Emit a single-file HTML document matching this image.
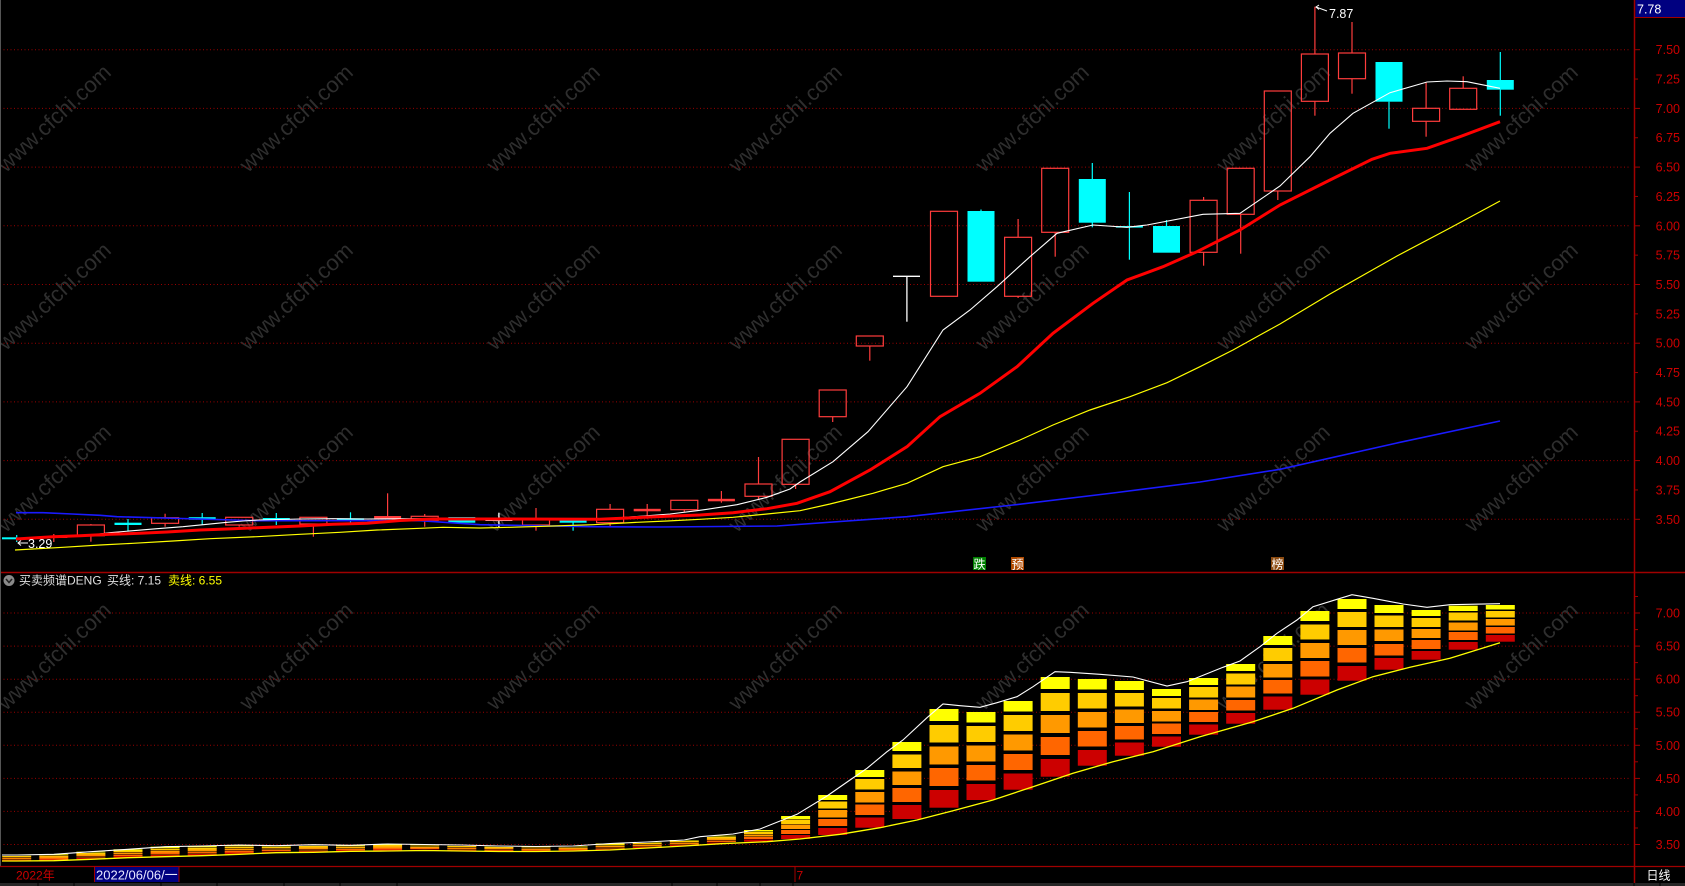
<!DOCTYPE html>
<html><head><meta charset="utf-8"><style>
html,body{margin:0;padding:0;background:#000;}
svg{display:block;}
text{font-family:"Liberation Sans","Noto Sans CJK SC",sans-serif;}
</style></head><body>
<svg width="1685" height="886" viewBox="0 0 1685 886" xmlns="http://www.w3.org/2000/svg">
<defs>
<linearGradient id="bg" x1="0" y1="0" x2="0" y2="1">
<stop offset="0" stop-color="#ffff00"/><stop offset="0.12" stop-color="#ffff00"/>
<stop offset="0.12" stop-color="#000"/><stop offset="0.16" stop-color="#000"/>
<stop offset="0.16" stop-color="#ffcc00"/><stop offset="0.34" stop-color="#ffcc00"/>
<stop offset="0.34" stop-color="#000"/><stop offset="0.38" stop-color="#000"/>
<stop offset="0.38" stop-color="#ff9900"/><stop offset="0.56" stop-color="#ff9900"/>
<stop offset="0.56" stop-color="#000"/><stop offset="0.60" stop-color="#000"/>
<stop offset="0.60" stop-color="#ff6600"/><stop offset="0.78" stop-color="#ff6600"/>
<stop offset="0.78" stop-color="#000"/><stop offset="0.82" stop-color="#000"/>
<stop offset="0.82" stop-color="#cc0000"/><stop offset="1" stop-color="#cc0000"/>
</linearGradient>
</defs>
<rect x="0" y="0" width="1685" height="886" fill="#000"/>

<!-- watermarks -->
<g fill="#2e2e2e" font-size="22" text-anchor="middle">
<text transform="translate(54,118) rotate(-43)" dy="0.35em">www.cfchi.com</text>
<text transform="translate(296,118) rotate(-43)" dy="0.35em">www.cfchi.com</text>
<text transform="translate(543,118) rotate(-43)" dy="0.35em">www.cfchi.com</text>
<text transform="translate(785,118) rotate(-43)" dy="0.35em">www.cfchi.com</text>
<text transform="translate(1032,118) rotate(-43)" dy="0.35em">www.cfchi.com</text>
<text transform="translate(1273,118) rotate(-43)" dy="0.35em">www.cfchi.com</text>
<text transform="translate(1521,118) rotate(-43)" dy="0.35em">www.cfchi.com</text>
<text transform="translate(54,296) rotate(-43)" dy="0.35em">www.cfchi.com</text>
<text transform="translate(296,296) rotate(-43)" dy="0.35em">www.cfchi.com</text>
<text transform="translate(543,296) rotate(-43)" dy="0.35em">www.cfchi.com</text>
<text transform="translate(785,296) rotate(-43)" dy="0.35em">www.cfchi.com</text>
<text transform="translate(1032,296) rotate(-43)" dy="0.35em">www.cfchi.com</text>
<text transform="translate(1273,296) rotate(-43)" dy="0.35em">www.cfchi.com</text>
<text transform="translate(1521,296) rotate(-43)" dy="0.35em">www.cfchi.com</text>
<text transform="translate(54,478) rotate(-43)" dy="0.35em">www.cfchi.com</text>
<text transform="translate(296,478) rotate(-43)" dy="0.35em">www.cfchi.com</text>
<text transform="translate(543,478) rotate(-43)" dy="0.35em">www.cfchi.com</text>
<text transform="translate(785,478) rotate(-43)" dy="0.35em">www.cfchi.com</text>
<text transform="translate(1032,478) rotate(-43)" dy="0.35em">www.cfchi.com</text>
<text transform="translate(1273,478) rotate(-43)" dy="0.35em">www.cfchi.com</text>
<text transform="translate(1521,478) rotate(-43)" dy="0.35em">www.cfchi.com</text>
<text transform="translate(54,656) rotate(-43)" dy="0.35em">www.cfchi.com</text>
<text transform="translate(296,656) rotate(-43)" dy="0.35em">www.cfchi.com</text>
<text transform="translate(543,656) rotate(-43)" dy="0.35em">www.cfchi.com</text>
<text transform="translate(785,656) rotate(-43)" dy="0.35em">www.cfchi.com</text>
<text transform="translate(1032,656) rotate(-43)" dy="0.35em">www.cfchi.com</text>
<text transform="translate(1273,656) rotate(-43)" dy="0.35em">www.cfchi.com</text>
<text transform="translate(1521,656) rotate(-43)" dy="0.35em">www.cfchi.com</text>
</g>

<!-- grid lines -->
<g stroke="#9a0000" stroke-width="1" stroke-dasharray="1 2.5">
<line x1="0" y1="49.7" x2="1631" y2="49.7"/>
<line x1="0" y1="108.4" x2="1631" y2="108.4"/>
<line x1="0" y1="167.1" x2="1631" y2="167.1"/>
<line x1="0" y1="225.8" x2="1631" y2="225.8"/>
<line x1="0" y1="284.5" x2="1631" y2="284.5"/>
<line x1="0" y1="343.2" x2="1631" y2="343.2"/>
<line x1="0" y1="401.9" x2="1631" y2="401.9"/>
<line x1="0" y1="460.6" x2="1631" y2="460.6"/>
<line x1="0" y1="519.3" x2="1631" y2="519.3"/>
<line x1="0" y1="613" x2="1631" y2="613"/>
<line x1="0" y1="646.1" x2="1631" y2="646.1"/>
<line x1="0" y1="679.2" x2="1631" y2="679.2"/>
<line x1="0" y1="712.2" x2="1631" y2="712.2"/>
<line x1="0" y1="745.3" x2="1631" y2="745.3"/>
<line x1="0" y1="778.4" x2="1631" y2="778.4"/>
<line x1="0" y1="811.4" x2="1631" y2="811.4"/>
<line x1="0" y1="844.5" x2="1631" y2="844.5"/>
</g>

<!-- candles: red hollow -->
<g fill="none" stroke="#ff3c3c" stroke-width="1.2">
<rect x="77.4" y="525" width="27" height="10.7"/>
<rect x="151.6" y="517.7" width="27" height="5.6"/>
<rect x="225.7" y="517.3" width="27" height="7.7"/>
<rect x="299.9" y="517.3" width="27" height="6.7"/>
<rect x="411.2" y="516.3" width="27" height="4"/>
<rect x="522.5" y="519" width="27" height="6"/>
<rect x="596.6" y="509.3" width="27" height="13.4"/>
<rect x="670.8" y="500.3" width="27" height="9.4"/>
<rect x="745" y="484" width="27" height="12.3"/>
<rect x="782.1" y="439.3" width="27" height="45"/>
<rect x="819.2" y="390" width="27" height="26.7"/>
<rect x="856.3" y="336" width="27" height="10"/>
<rect x="930.5" y="211.3" width="27" height="85"/>
<rect x="1004.6" y="237.3" width="27" height="59"/>
<rect x="1041.7" y="168.3" width="27" height="64"/>
<rect x="1190.1" y="200.3" width="27" height="52"/>
<rect x="1227.2" y="168.3" width="27" height="46"/>
<rect x="1264.3" y="91" width="27" height="100"/>
<rect x="1301.4" y="54" width="27" height="47.3"/>
<rect x="1338.5" y="53" width="27" height="25.7"/>
<rect x="1412.6" y="108.3" width="27" height="13"/>
<rect x="1449.7" y="88.3" width="27" height="21"/>
<!-- wicks -->
<line x1="53.8" y1="534" x2="53.8" y2="542"/>
<line x1="90.9" y1="524" x2="90.9" y2="525"/><line x1="90.9" y1="535.7" x2="90.9" y2="541.7"/>
<line x1="165.1" y1="513.7" x2="165.1" y2="517.7"/><line x1="165.1" y1="523.3" x2="165.1" y2="526.7"/>
<line x1="239.2" y1="525" x2="239.2" y2="526.7"/>
<line x1="313.4" y1="524" x2="313.4" y2="536.7"/>
<line x1="387.6" y1="493.3" x2="387.6" y2="518"/>
<line x1="424.7" y1="514" x2="424.7" y2="516.3"/><line x1="424.7" y1="520.3" x2="424.7" y2="526.7"/>
<line x1="536" y1="508" x2="536" y2="519"/><line x1="536" y1="525" x2="536" y2="530.7"/>
<line x1="610.1" y1="504" x2="610.1" y2="509.3"/><line x1="610.1" y1="522.7" x2="610.1" y2="526"/>
<line x1="647.2" y1="504" x2="647.2" y2="518.7"/>
<line x1="684.3" y1="509.7" x2="684.3" y2="512"/>
<line x1="721.4" y1="491" x2="721.4" y2="502.7"/>
<line x1="758.5" y1="457" x2="758.5" y2="484"/><line x1="758.5" y1="496.3" x2="758.5" y2="499.3"/>
<line x1="795.6" y1="484.3" x2="795.6" y2="489"/>
<line x1="832.7" y1="416.7" x2="832.7" y2="422"/>
<line x1="869.8" y1="346" x2="869.8" y2="360.7"/>
<line x1="1018.1" y1="219" x2="1018.1" y2="237.3"/><line x1="1018.1" y1="296.3" x2="1018.1" y2="298"/>
<line x1="1055.2" y1="232.3" x2="1055.2" y2="256.7"/>
<line x1="1203.6" y1="197" x2="1203.6" y2="200.3"/><line x1="1203.6" y1="252.3" x2="1203.6" y2="265.7"/>
<line x1="1240.7" y1="214.3" x2="1240.7" y2="253.7"/>
<line x1="1277.8" y1="191" x2="1277.8" y2="200"/>
<line x1="1314.9" y1="6.7" x2="1314.9" y2="54"/><line x1="1314.9" y1="101.3" x2="1314.9" y2="115.7"/>
<line x1="1352" y1="22" x2="1352" y2="53"/><line x1="1352" y1="78.7" x2="1352" y2="93.7"/>
<line x1="1426.1" y1="82.7" x2="1426.1" y2="108.3"/><line x1="1426.1" y1="121.3" x2="1426.1" y2="136.7"/>
<line x1="1463.2" y1="76.3" x2="1463.2" y2="88.3"/>
</g>
<g fill="#ff3c3c">
<rect x="40.3" y="536" width="27" height="2"/>
<rect x="374.1" y="516" width="27" height="2.5"/>
<rect x="633.7" y="508.8" width="27" height="2.5"/>
<rect x="707.9" y="498.8" width="27" height="2.5"/>
</g>
<!-- cyan candles -->
<g fill="#00ffff">
<rect x="2" y="537.3" width="14" height="2"/>
<rect x="114.5" y="522.7" width="27" height="2.3"/>
<rect x="188.7" y="517.2" width="27" height="2.5"/>
<rect x="262.8" y="518" width="27" height="2.5"/>
<rect x="337" y="518.3" width="27" height="2.3"/>
<rect x="448.3" y="517" width="27" height="5.7"/>
<rect x="559.6" y="520.3" width="27" height="2.4"/>
<rect x="967.5" y="211" width="27" height="70.7"/>
<rect x="1078.8" y="179" width="27" height="43.7"/>
<rect x="1115.9" y="226" width="27" height="1.6"/>
<rect x="1153" y="226" width="27" height="26.7"/>
<rect x="1375.5" y="62" width="27" height="39.7"/>
<rect x="1486.8" y="80" width="27" height="9.7"/>
</g>
<g stroke="#00ffff" stroke-width="1.2">
<line x1="16.7" y1="535" x2="16.7" y2="542"/>
<line x1="128" y1="519" x2="128" y2="531"/>
<line x1="202.2" y1="513" x2="202.2" y2="525"/>
<line x1="276.3" y1="513" x2="276.3" y2="525"/>
<line x1="350.5" y1="512.3" x2="350.5" y2="522.7"/>
<line x1="573.1" y1="518" x2="573.1" y2="530.7"/>
<line x1="981" y1="209.5" x2="981" y2="211"/>
<line x1="1092.3" y1="163" x2="1092.3" y2="227.3"/>
<line x1="1129.4" y1="192" x2="1129.4" y2="259.7"/>
<line x1="1166.5" y1="220" x2="1166.5" y2="226"/>
<line x1="1389" y1="101.7" x2="1389" y2="128.7"/>
<line x1="1500.3" y1="52" x2="1500.3" y2="115.7"/>
</g>
<!-- white dojis -->
<g stroke="#ffffff" stroke-width="1.3">
<line x1="485.4" y1="520.3" x2="512.4" y2="520.3"/>
<line x1="498.9" y1="512.7" x2="498.9" y2="527.3"/>
<line x1="893" y1="276.3" x2="920" y2="276.3"/>
<line x1="906.9" y1="276.3" x2="906.9" y2="321.7"/>
</g>

<!-- moving averages -->
<polyline fill="none" stroke="#1a1aff" stroke-width="1.6" points="16,512.7 43,512.7 72,514 100,515.3 117,516.7 258,520.7 420,520.7 480,524.7 590,526.7 660,527 777,526 907,516.7 1013,505 1113,493 1200,482 1280,469.3 1397,443 1500,421"/>
<polyline fill="none" stroke="#ffff00" stroke-width="1.2" points="15,550 63,547.3 100,545 133,543.3 173,541 210,538.7 257,536.7 300,534.3 340,532.3 377,530 420,528.3 443,527.3 480,528 510,527.3 553,526 593,524.7 637,522.3 667,521 700,519.3 733,517.3 767,514 800,510.7 830,504 873,493.3 907,483.3 943,466.7 980,456.7 1020,440 1053,425 1090,410 1130,396.7 1167,382.7 1200,366.7 1233,350 1260,335 1280,324 1330,294 1397,256 1450,228 1500,201"/>
<polyline fill="none" stroke="#ffffff" stroke-width="1.1" points="84,536 110,532.7 133,530.7 157,528.7 183,526.7 207,524.3 227,522.3 243,521 258,520 300,519 333,518.7 367,519 420,518.7 500,519 600,519 640,516.3 670,514 697,510.7 707,509.3 737,504.7 767,497.3 790,489 800,482 833,461.7 868,431.7 907,386.7 943,330 970,310 997,286.7 1030,256.7 1057,233.3 1093,225 1127,227.3 1147,225 1203,214.3 1240,213.3 1280,186 1310,156.7 1330,133.3 1353,113.3 1390,92.7 1427,82 1447,81 1467,81.7 1500,88.3"/>
<polyline fill="none" stroke="#ff0000" stroke-width="3" points="16,539 53,536.7 80,535.7 110,534.3 140,533.3 167,532 200,530 233,528.7 257,527.7 300,526 333,524.3 367,523.3 400,520.5 433,519 500,519 600,519.3 633,517.7 667,516.3 700,515 733,512.7 767,508.7 797,503.3 830,491.7 870,470 907,446.7 940,416.7 980,393.3 1017,366.7 1053,333.3 1093,303.3 1127,280 1163,266.7 1197,251.7 1240,230 1280,205 1330,180 1372,159.3 1390,153.3 1427,148.3 1460,136.7 1500,121.7"/>

<!-- high/low markers -->
<g stroke="#ffffff" stroke-width="1" fill="none">
<line x1="1316" y1="7" x2="1327" y2="11"/>
<polyline points="1319,5 1316,7 1319,9.5"/>
<line x1="18" y1="543" x2="28" y2="543"/>
<polyline points="21,540.5 18,543 21,545.5"/>
</g>
<text x="1329" y="18" font-size="12.5" fill="#ffffff">7.87</text>
<text x="28" y="548" font-size="12.5" fill="#ffffff">3.29</text>

<!-- signal labels -->
<rect x="973" y="557" width="13" height="13" fill="#008000"/>
<text x="979.5" y="568.5" font-size="12" fill="#ffffff" text-anchor="middle">跌</text>
<rect x="1011" y="557" width="13" height="13" fill="#b04a00"/>
<text x="1017.5" y="568.5" font-size="12" fill="#ffffff" text-anchor="middle">预</text>
<rect x="1271" y="557" width="13" height="13" fill="#8b4a10"/>
<text x="1277.5" y="568.5" font-size="12" fill="#ffffff" text-anchor="middle">榜</text>

<!-- panel divider -->
<line x1="0" y1="572.5" x2="1685" y2="572.5" stroke="#a00000" stroke-width="1.5"/>

<!-- legend -->
<circle cx="9" cy="580.5" r="5.5" fill="#8a8a8a"/>
<polyline points="6,579 9,582.5 12,579" fill="none" stroke="#222" stroke-width="1.5"/>
<text x="19" y="584.5" font-size="12" fill="#e0e0e0">买卖频谱DENG</text>
<text x="107" y="584.5" font-size="12" fill="#e0e0e0">买线: 7.15</text>
<text x="168" y="584.5" font-size="12" fill="#ffff00">卖线: 6.55</text>

<!-- spectrum bars -->
<g fill="url(#bg)">
<rect x="2.2" y="855" width="29" height="6"/>
<rect x="39.3" y="854.3" width="29" height="6.4"/>
<rect x="76.4" y="851.7" width="29" height="7.6"/>
<rect x="113.5" y="849.3" width="29" height="8.4"/>
<rect x="150.6" y="846.7" width="29" height="10"/>
<rect x="187.7" y="846" width="29" height="9.7"/>
<rect x="224.7" y="845" width="29" height="9.3"/>
<rect x="261.8" y="845.7" width="29" height="7"/>
<rect x="298.9" y="844.7" width="29" height="7.6"/>
<rect x="336" y="845.3" width="29" height="6"/>
<rect x="373.1" y="844" width="29" height="7"/>
<rect x="410.2" y="844.5" width="29" height="6"/>
<rect x="447.3" y="845" width="29" height="6"/>
<rect x="484.4" y="846" width="29" height="5.5"/>
<rect x="521.5" y="846.5" width="29" height="5"/>
<rect x="558.6" y="846" width="29" height="5"/>
<rect x="595.6" y="843.5" width="29" height="6.5"/>
<rect x="632.7" y="842" width="29" height="6"/>
<rect x="669.8" y="840" width="29" height="6"/>
<rect x="706.9" y="835.7" width="29" height="8"/>
<rect x="744" y="830" width="29" height="11.7"/>
<rect x="781.1" y="816" width="29" height="23"/>
<rect x="818.2" y="795" width="29" height="40"/>
<rect x="855.3" y="770" width="29" height="57.7"/>
<rect x="892.4" y="742" width="29" height="77"/>
<rect x="929.5" y="709" width="29" height="98.7"/>
<rect x="966.5" y="712" width="29" height="88"/>
<rect x="1003.6" y="701" width="29" height="88.7"/>
<rect x="1040.7" y="677" width="29" height="99.7"/>
<rect x="1077.8" y="679" width="29" height="86.7"/>
<rect x="1114.9" y="681" width="29" height="74.7"/>
<rect x="1152" y="689" width="29" height="57.7"/>
<rect x="1189.1" y="678" width="29" height="56.7"/>
<rect x="1226.2" y="664" width="29" height="59.7"/>
<rect x="1263.3" y="636" width="29" height="73.7"/>
<rect x="1300.4" y="611" width="29" height="83.7"/>
<rect x="1337.5" y="599" width="29" height="81.7"/>
<rect x="1374.5" y="605" width="29" height="64.7"/>
<rect x="1411.6" y="610" width="29" height="49.7"/>
<rect x="1448.7" y="605.7" width="29" height="44"/>
<rect x="1485.8" y="605" width="29" height="36.7"/>
</g>
<polyline fill="none" stroke="#ffffff" stroke-width="1.1" points="2,855 16.7,855 53.8,854.3 90.9,851.7 128,849.3 165.1,846.7 202.2,846 239.2,845 276.3,845.7 313.4,844.7 350.5,845.3 387.6,844 424.7,844.5 461.8,845 498.9,846 536,846.5 573.1,846 610.1,843.5 647.2,842 684.3,840 700,836.7 733,834 760,829 797,814.3 827,796 850,780 867,768.3 887,751.7 903,740 927,717.7 943,704 960,705.7 980,707.3 997,702.7 1017,696.7 1033,686.7 1055,671.7 1070,672.3 1100,674.3 1133,677 1167,686 1187,681.7 1223,667.3 1240,661 1260,646.7 1277,633.3 1297,620 1313,606.7 1337,599.3 1352,594.7 1373,598.3 1403,604 1427,607.3 1450,604.7 1500,603.7"/>
<polyline fill="none" stroke="#ffff00" stroke-width="1.3" points="2,861 16.7,861 53.8,860.7 90.9,859.3 128,857.7 165.1,856.7 202.2,855.7 239.2,854.3 276.3,852.7 313.4,852.3 350.5,851.3 387.6,851 424.7,850.5 461.8,851 498.9,851.5 536,851.5 573.1,851 610.1,850 647.2,848 684.3,846 721.4,843.7 767,841.7 800,839 840,834.3 880,827.7 917,820 953,810.7 993,800 1033,786.7 1073,773.3 1113,761.7 1153,751.7 1200,736.7 1253,721.7 1293,708.3 1337,690 1373,676.7 1410,667.3 1450,658.3 1500,642.7"/>

<!-- left border -->
<line x1="0.5" y1="0" x2="0.5" y2="866" stroke="#555" stroke-width="1"/>

<!-- right axis -->
<line x1="1634.5" y1="0" x2="1634.5" y2="886" stroke="#a00000" stroke-width="1.5"/>
<g stroke="#a00000" stroke-width="1">
<line x1="1635" y1="49.7" x2="1640" y2="49.7"/><line x1="1635" y1="79.05" x2="1638" y2="79.05"/>
<line x1="1635" y1="108.4" x2="1640" y2="108.4"/><line x1="1635" y1="137.75" x2="1638" y2="137.75"/>
<line x1="1635" y1="167.1" x2="1640" y2="167.1"/><line x1="1635" y1="196.45" x2="1638" y2="196.45"/>
<line x1="1635" y1="225.8" x2="1640" y2="225.8"/><line x1="1635" y1="255.15" x2="1638" y2="255.15"/>
<line x1="1635" y1="284.5" x2="1640" y2="284.5"/><line x1="1635" y1="313.85" x2="1638" y2="313.85"/>
<line x1="1635" y1="343.2" x2="1640" y2="343.2"/><line x1="1635" y1="372.55" x2="1638" y2="372.55"/>
<line x1="1635" y1="401.9" x2="1640" y2="401.9"/><line x1="1635" y1="431.25" x2="1638" y2="431.25"/>
<line x1="1635" y1="460.6" x2="1640" y2="460.6"/><line x1="1635" y1="489.95" x2="1638" y2="489.95"/>
<line x1="1635" y1="519.3" x2="1640" y2="519.3"/>
<line x1="1635" y1="596.5" x2="1638" y2="596.5"/>
<line x1="1635" y1="613" x2="1640" y2="613"/><line x1="1635" y1="629.6" x2="1638" y2="629.6"/>
<line x1="1635" y1="646.1" x2="1640" y2="646.1"/><line x1="1635" y1="662.6" x2="1638" y2="662.6"/>
<line x1="1635" y1="679.2" x2="1640" y2="679.2"/><line x1="1635" y1="695.7" x2="1638" y2="695.7"/>
<line x1="1635" y1="712.2" x2="1640" y2="712.2"/><line x1="1635" y1="728.8" x2="1638" y2="728.8"/>
<line x1="1635" y1="745.3" x2="1640" y2="745.3"/><line x1="1635" y1="761.8" x2="1638" y2="761.8"/>
<line x1="1635" y1="778.4" x2="1640" y2="778.4"/><line x1="1635" y1="794.9" x2="1638" y2="794.9"/>
<line x1="1635" y1="811.4" x2="1640" y2="811.4"/><line x1="1635" y1="828" x2="1638" y2="828"/>
<line x1="1635" y1="844.5" x2="1640" y2="844.5"/>
</g>
<g fill="#cc0000" font-size="12.5" text-anchor="end">
<text x="1680" y="54.2">7.50</text>
<text x="1680" y="83.5">7.25</text>
<text x="1680" y="112.9">7.00</text>
<text x="1680" y="142.2">6.75</text>
<text x="1680" y="171.6">6.50</text>
<text x="1680" y="200.9">6.25</text>
<text x="1680" y="230.3">6.00</text>
<text x="1680" y="259.6">5.75</text>
<text x="1680" y="289">5.50</text>
<text x="1680" y="318.3">5.25</text>
<text x="1680" y="347.7">5.00</text>
<text x="1680" y="377">4.75</text>
<text x="1680" y="406.4">4.50</text>
<text x="1680" y="435.7">4.25</text>
<text x="1680" y="465.1">4.00</text>
<text x="1680" y="494.4">3.75</text>
<text x="1680" y="523.8">3.50</text>
<text x="1680" y="617.5">7.00</text>
<text x="1680" y="650.6">6.50</text>
<text x="1680" y="683.7">6.00</text>
<text x="1680" y="716.7">5.50</text>
<text x="1680" y="749.8">5.00</text>
<text x="1680" y="782.9">4.50</text>
<text x="1680" y="815.9">4.00</text>
<text x="1680" y="849">3.50</text>
</g>

<!-- top-right current price box -->
<rect x="1635.5" y="0" width="49.5" height="17" fill="#000080"/>
<line x1="1635" y1="17.5" x2="1685" y2="17.5" stroke="#a00000" stroke-width="1"/>
<text x="1637" y="13.5" font-size="12.5" fill="#ffffff">7.78</text>

<!-- bottom time axis -->
<line x1="0" y1="866.5" x2="1685" y2="866.5" stroke="#a00000" stroke-width="1.2"/>
<text x="16" y="879.5" font-size="12" fill="#cc0000">2022年</text>
<rect x="94.5" y="867" width="84.5" height="15" fill="#000080"/>
<line x1="94.5" y1="867" x2="94.5" y2="882" stroke="#a00000" stroke-width="1"/>
<line x1="179" y1="867" x2="179" y2="882" stroke="#a00000" stroke-width="1"/>
<text x="96" y="879.5" font-size="13" fill="#e8e8ff">2022/06/06/一</text>
<line x1="795" y1="867" x2="795" y2="882" stroke="#a00000" stroke-width="1"/>
<text x="796.5" y="879.5" font-size="12" fill="#cc0000">7</text>
<text x="1646.5" y="879.5" font-size="12" fill="#ffffff">日线</text>
<rect x="0" y="883" width="1685" height="3" fill="#262626"/>
<g stroke="#000" stroke-width="1">
<line x1="38" y1="883" x2="38" y2="886"/><line x1="74" y1="883" x2="74" y2="886"/>
<line x1="161" y1="883" x2="161" y2="886"/><line x1="217" y1="883" x2="217" y2="886"/>
<line x1="284" y1="883" x2="284" y2="886"/><line x1="340" y1="883" x2="340" y2="886"/>
<line x1="397" y1="883" x2="397" y2="886"/><line x1="672" y1="883" x2="672" y2="886"/>
<line x1="717" y1="883" x2="717" y2="886"/><line x1="760" y1="883" x2="760" y2="886"/>
<line x1="793" y1="883" x2="793" y2="886"/><line x1="1634" y1="883" x2="1634" y2="886"/>
<line x1="1660" y1="883" x2="1660" y2="886"/>
</g>
</svg>
</body></html>
